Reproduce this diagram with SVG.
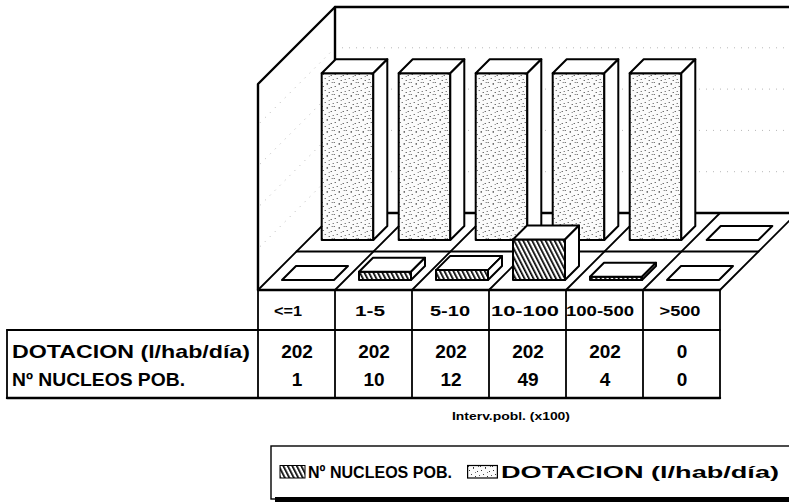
<svg xmlns="http://www.w3.org/2000/svg" xmlns:xlink="http://www.w3.org/1999/xlink" width="789" height="502" viewBox="0 0 789 502">
<style>
.ln{stroke:#000;fill:none;stroke-linecap:round;stroke-linejoin:round}
.thick{stroke-width:2.4}
.med{stroke-width:1.8}
.thin{stroke-width:1.2}
.grid{stroke:#b8b8b8;stroke-width:1;stroke-dasharray:1 6;fill:none}
.face{stroke:#000;stroke-width:2;stroke-linejoin:round}
.white{fill:#fff}
.dot{fill:url(#stipple)}
.hatch{fill:url(#hatch)}
.t{font-family:"Liberation Sans",Arial,Helvetica,sans-serif;font-weight:bold;fill:#000}
.hdr{font-size:15px;text-anchor:middle}
.val{font-size:19px;text-anchor:middle}
.lab{font-size:19px}
.leg{font-size:17px}
.axis{font-size:11px}
</style>
<defs>
<pattern id="stipple" patternUnits="userSpaceOnUse" width="12" height="12">
<rect width="12" height="12" fill="#fbfbfb"/>
<rect x="1" y="2" width="1" height="1" fill="#333"/>
<rect x="5" y="0" width="1" height="1" fill="#555"/>
<rect x="9" y="3" width="1" height="1" fill="#333"/>
<rect x="3" y="6" width="1" height="1" fill="#444"/>
<rect x="7" y="8" width="1" height="1" fill="#333"/>
<rect x="11" y="7" width="1" height="1" fill="#555"/>
<rect x="0" y="10" width="1" height="1" fill="#444"/>
<rect x="5" y="11" width="1" height="1" fill="#333"/>
<rect x="10" y="10" width="1" height="1" fill="#666"/>
<rect x="7" y="4" width="1" height="1" fill="#777"/>
</pattern>
<pattern id="hatch" patternUnits="userSpaceOnUse" width="4" height="4" patternTransform="rotate(-27)">
<rect width="4" height="4" fill="#fff"/>
<rect x="0" y="0" width="1.7" height="4" fill="#000"/>
</pattern>
<g id="barD">
<rect class="face dot" x="0" y="73.3" width="51.6" height="166.7"/>
<polygon class="face white" points="0,73.3 14,59.3 65.6,59.3 51.6,73.3"/>
<polygon class="face white" points="51.6,73.3 65.6,59.3 65.6,226 51.6,240"/>
</g>
</defs>
<rect width="789" height="502" fill="#fff"/>

<g id="walls">
<line class="grid" x1="335" y1="47.8" x2="789" y2="47.8"/>
<line class="grid" x1="335" y1="89.1" x2="789" y2="89.1"/>
<line class="grid" x1="335" y1="130.4" x2="789" y2="130.4"/>
<line class="grid" x1="335" y1="171.7" x2="789" y2="171.7"/>
<line class="grid" x1="335" y1="47.8" x2="258" y2="124.8"/>
<line class="grid" x1="335" y1="89.1" x2="258" y2="166.1"/>
<line class="grid" x1="335" y1="130.4" x2="258" y2="207.4"/>
<line class="grid" x1="335" y1="171.7" x2="258" y2="248.7"/>
<polyline class="ln thick" points="789,7 335,7 335,213"/>
<polyline class="ln thick" points="335,7 258,84 258,290"/>
</g>

<g id="floor">
<line class="ln thick" x1="335" y1="213" x2="789" y2="213"/>
<line class="ln med" x1="258" y1="290" x2="335" y2="213"/>
<line class="ln med" x1="335" y1="290" x2="412" y2="213"/>
<line class="ln med" x1="412" y1="290" x2="489" y2="213"/>
<line class="ln med" x1="489" y1="290" x2="566" y2="213"/>
<line class="ln med" x1="566" y1="290" x2="643" y2="213"/>
<line class="ln med" x1="643" y1="290" x2="720" y2="213"/>
<line class="ln med" x1="720" y1="290" x2="797" y2="213"/>
<line class="ln med" x1="296.5" y1="251.5" x2="758.5" y2="251.5"/>
<line class="ln thick" x1="258" y1="290" x2="720" y2="290"/>
</g>

<g id="bars-dotacion">
<use xlink:href="#barD" x="321.7"/>
<use xlink:href="#barD" x="398.7"/>
<use xlink:href="#barD" x="475.7"/>
<use xlink:href="#barD" x="552.7"/>
<use xlink:href="#barD" x="629.7"/>
<polygon class="face white" stroke-width="2.4" points="706.7,240 758.3,240 772.3,226 720.7,226"/>
</g>

<g id="bars-nucleos">
<polygon class="face white" stroke-width="2.4" points="282,280 334,280 348,266 296,266"/>
<g>
<rect class="face hatch" x="359" y="271.7" width="52" height="8.3"/>
<polygon class="face white" points="359,271.7 373,257.7 425,257.7 411,271.7"/>
<polygon class="face white" points="411,271.7 425,257.7 425,266 411,280"/>
</g>
<g>
<rect class="face hatch" x="436" y="270.1" width="52" height="9.9"/>
<polygon class="face white" points="436,270.1 450,256.1 502,256.1 488,270.1"/>
<polygon class="face white" points="488,270.1 502,256.1 502,266 488,280"/>
</g>
<g>
<rect class="face hatch" x="513" y="239.5" width="52" height="40.5"/>
<polygon class="face white" points="513,239.5 527,225.5 579,225.5 565,239.5"/>
<polygon class="face white" points="565,239.5 579,225.5 579,266 565,280"/>
</g>
<g>
<rect class="face hatch" x="590" y="276.7" width="52" height="3.3"/>
<polygon class="face white" points="590,276.7 604,262.7 656,262.7 642,276.7"/>
<polygon class="face white" points="642,276.7 656,262.7 656,266 642,280"/>
</g>
<polygon class="face white" stroke-width="2.4" points="667,280 719,280 733,266 681,266"/>
</g>

<g id="table">
<line class="ln med" x1="7" y1="330" x2="720" y2="330"/>
<line class="ln thick" x1="7" y1="398" x2="720" y2="398"/>
<line class="ln med" x1="7" y1="330" x2="7" y2="398"/>
<line class="ln med" x1="258" y1="290" x2="258" y2="398"/>
<line class="ln med" x1="335" y1="290" x2="335" y2="398"/>
<line class="ln med" x1="412" y1="290" x2="412" y2="398"/>
<line class="ln med" x1="489" y1="290" x2="489" y2="398"/>
<line class="ln med" x1="566" y1="290" x2="566" y2="398"/>
<line class="ln med" x1="643" y1="290" x2="643" y2="398"/>
<line class="ln med" x1="720" y1="290" x2="720" y2="398"/>
<text class="t hdr" x="288" y="316" textLength="28" lengthAdjust="spacingAndGlyphs">&lt;=1</text>
<text class="t hdr" x="370" y="316" textLength="30" lengthAdjust="spacingAndGlyphs">1-5</text>
<text class="t hdr" x="450" y="316" textLength="40" lengthAdjust="spacingAndGlyphs">5-10</text>
<text class="t hdr" x="525" y="316" textLength="68" lengthAdjust="spacingAndGlyphs">10-100</text>
<text class="t hdr" x="600" y="316" textLength="68" lengthAdjust="spacingAndGlyphs">100-500</text>
<text class="t hdr" x="680" y="316" textLength="41" lengthAdjust="spacingAndGlyphs">&gt;500</text>
<text class="t lab" x="12" y="358" textLength="238" lengthAdjust="spacingAndGlyphs">DOTACION (l/hab/día)</text>
<text class="t lab" x="12" y="386" textLength="173" lengthAdjust="spacingAndGlyphs">Nº NUCLEOS POB.</text>
<text class="t val" x="297" y="358">202</text>
<text class="t val" x="374" y="358">202</text>
<text class="t val" x="451" y="358">202</text>
<text class="t val" x="528" y="358">202</text>
<text class="t val" x="605" y="358">202</text>
<text class="t val" x="682" y="358">0</text>
<text class="t val" x="297" y="386">1</text>
<text class="t val" x="374" y="386">10</text>
<text class="t val" x="451" y="386">12</text>
<text class="t val" x="528" y="386">49</text>
<text class="t val" x="605" y="386">4</text>
<text class="t val" x="682" y="386">0</text>
<text class="t axis" x="452" y="420" textLength="118" lengthAdjust="spacingAndGlyphs">Interv.pobl. (x100)</text>
</g>

<g id="legend">
<rect x="271" y="446" width="530" height="53" fill="#fff" stroke="#000" stroke-width="1.4"/>
<rect x="275" y="497" width="526" height="6" fill="#000"/>
<rect x="280" y="465.5" width="25" height="12.5" class="hatch" stroke="#000" stroke-width="1"/>
<text class="t leg" x="308" y="478" textLength="144" lengthAdjust="spacingAndGlyphs">Nº NUCLEOS POB.</text>
<rect x="467.6" y="465.5" width="29.8" height="12.5" class="dot" stroke="#000" stroke-width="1.2"/>
<text class="t leg" x="501" y="478" textLength="278" lengthAdjust="spacingAndGlyphs">DOTACION (l/hab/día)</text>
</g>
</svg>
